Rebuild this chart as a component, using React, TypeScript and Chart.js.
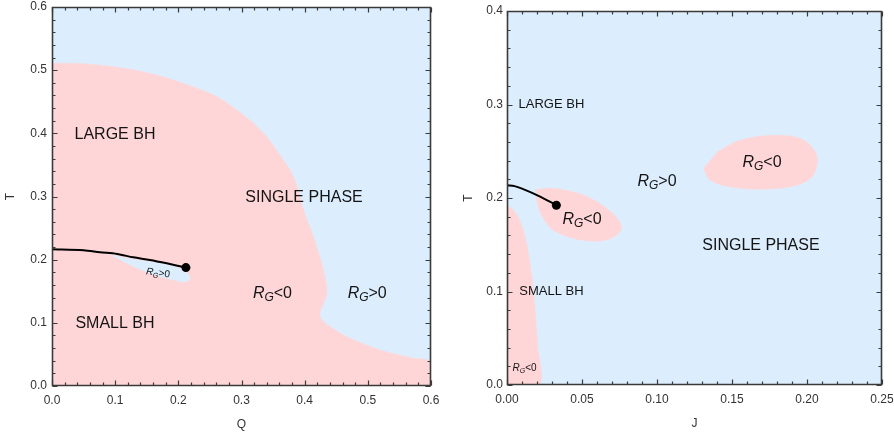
import React, { useEffect, useRef } from 'react';
import { Chart, registerables } from 'chart.js';
Chart.register(...registerables);

const FONT = '"Liberation Sans", Arial, sans-serif';
const PINK = '#FFD6D7';
const BLUE = '#DCEDFD';
const FRAME = '#3A3A3A';
const TEXT = '#141414';
const TICK_TEXT = '#333333';

// ---------- Left panel (T vs Q) ----------
const Q_TICKS = [0, 0.1, 0.2, 0.3, 0.4, 0.5, 0.6];
const TQ_TICKS = [0, 0.1, 0.2, 0.3, 0.4, 0.5, 0.6];

const UNSTABLE_Q = [0, 0.05, 0.1, 0.155, 0.208, 0.261, 0.313, 0.34, 0.366, 0.378, 0.39, 0.398, 0.414, 0.427, 0.434, 0.435, 0.43, 0.424, 0.427, 0.44, 0.467, 0.519, 0.572, 0.6, 0.6, 0];
const UNSTABLE_Q_T = [0.511, 0.51, 0.505, 0.495, 0.479, 0.458, 0.421, 0.394, 0.358, 0.34, 0.31, 0.279, 0.236, 0.194, 0.163, 0.147, 0.131, 0.115, 0.105, 0.094, 0.078, 0.057, 0.044, 0.038, 0, 0];

const POCKET_Q = [0.092, 0.1287, 0.1816, 0.208, 0.2185, 0.2132, 0.1974, 0.155, 0.1182];
const POCKET_Q_T = [0.2074, 0.2005, 0.1922, 0.1836, 0.172, 0.165, 0.1667, 0.1784, 0.1942];

const COEX_Q = [0, 0.05, 0.076, 0.103, 0.1287, 0.155, 0.1816, 0.212];
const COEX_Q_T = [0.2164, 0.2148, 0.2117, 0.209, 0.2037, 0.1995, 0.1942, 0.1875];
const CRIT_Q = [0.212];
const CRIT_Q_T = [0.1875];

// ---------- Right panel (T vs J) ----------
const J_TICKS = [0, 0.05, 0.1, 0.15, 0.2, 0.25];
const TJ_TICKS = [0, 0.1, 0.2, 0.3, 0.4];

const STRIP_J = [0, 0.0044, 0.0089, 0.0133, 0.0167, 0.0189, 0.0204, 0.0218, 0];
const STRIP_J_T = [0.192, 0.187, 0.1745, 0.1496, 0.114, 0.0783, 0.0427, 0, 0];

const LOBE_J = [0.019, 0.03, 0.043, 0.054, 0.0667, 0.0744, 0.0762, 0.072, 0.0622, 0.0444, 0.031, 0.0255, 0.022, 0.0195];
const LOBE_J_T = [0.209, 0.2105, 0.207, 0.201, 0.1888, 0.1763, 0.1674, 0.159, 0.154, 0.1567, 0.1656, 0.175, 0.1855, 0.199];

const ISLAND_J = [0.131, 0.1355, 0.1489, 0.1667, 0.1889, 0.2022, 0.2067, 0.2055, 0.1955, 0.1778, 0.1555, 0.14];
const ISLAND_J_T = [0.2316, 0.2191, 0.2119, 0.2094, 0.2119, 0.2209, 0.235, 0.2493, 0.2636, 0.2671, 0.2618, 0.2493];

const COEX_J = [0, 0.005, 0.01, 0.021, 0.0329];
const COEX_J_T = [0.2137, 0.2127, 0.21, 0.2023, 0.1923];
const CRIT_J = [0.0329];
const CRIT_J_T = [0.1923];

// ---------- Labels ----------
const LEFT_TEXT = [
  { text: 'LARGE BH', x: 0.0997, y: 0.398, size: 16 },
  { text: 'SMALL BH', x: 0.0997, y: 0.0993, size: 16 },
  { text: 'SINGLE PHASE', x: 0.399, y: 0.2987, size: 16 },
  { rg: '<0', x: 0.349, y: 0.148, size: 16 },
  { rg: '>0', x: 0.499, y: 0.148, size: 16 },
  { rg: '>0', x: 0.168, y: 0.18, size: 10, rot: 8 },
];
const RIGHT_TEXT = [
  { text: 'LARGE BH', x: 0.0296, y: 0.3, size: 13 },
  { text: 'SMALL BH', x: 0.0296, y: 0.0997, size: 13 },
  { text: 'SINGLE PHASE', x: 0.1693, y: 0.1489, size: 16 },
  { rg: '>0', x: 0.1, y: 0.219, size: 16 },
  { rg: '<0', x: 0.05, y: 0.1788, size: 16 },
  { rg: '<0', x: 0.17, y: 0.2394, size: 16 },
  { rg: '<0', x: 0.0117, y: 0.0189, size: 10 },
];

const zip = (xs: number[], ys: number[]) => xs.map((x, i) => ({ x, y: ys[i] }));

const region = (xs: number[], ys: number[], color: string, tension = 0) => ({
  type: 'line',
  data: zip(xs, ys),
  showLine: true,
  fill: 'shape',
  backgroundColor: color,
  borderColor: color,
  borderWidth: 0.5,
  pointRadius: 0,
  tension,
});
const curve = (xs: number[], ys: number[]) => ({
  type: 'line',
  data: zip(xs, ys),
  showLine: true,
  fill: false,
  borderColor: '#000',
  borderWidth: 2,
  pointRadius: 0,
  tension: 0.3,
});
const dot = (xs: number[], ys: number[]) => ({
  type: 'scatter',
  data: zip(xs, ys),
  showLine: false,
  pointRadius: 4.5,
  pointBackgroundColor: '#000',
  pointBorderWidth: 0,
  pointBorderColor: '#000',
});

function drawRG(ctx: CanvasRenderingContext2D, rel: string, x: number, y: number, size: number, rotDeg: number) {
  const f1 = `italic ${size}px ${FONT}`;
  const f2 = `italic ${Math.round(size * 0.72)}px ${FONT}`;
  const f3 = `${size}px ${FONT}`;
  ctx.font = f1; const w1 = ctx.measureText('R').width;
  ctx.font = f2; const w2 = ctx.measureText('G').width;
  ctx.font = f3; const w3 = ctx.measureText(rel).width;
  const total = w1 + w2 + w3;
  ctx.save();
  ctx.translate(x, y);
  ctx.rotate((rotDeg * Math.PI) / 180);
  ctx.textAlign = 'left';
  ctx.textBaseline = 'alphabetic';
  ctx.fillStyle = TEXT;
  const base = size * 0.36;
  let cx = -total / 2;
  ctx.font = f1; ctx.fillText('R', cx, base); cx += w1;
  ctx.font = f2; ctx.fillText('G', cx, base + size * 0.2); cx += w2;
  ctx.font = f3; ctx.fillText(rel, cx, base);
  ctx.restore();
}

function makePlugin(p: any) {
  return {
    id: 'panel',
    beforeDatasetsDraw(chart: any) {
      const { ctx, chartArea: a } = chart;
      ctx.save();
      ctx.fillStyle = BLUE;
      ctx.fillRect(a.left, a.top, a.right - a.left, a.bottom - a.top);
      ctx.restore();
    },
    afterDatasetsDraw(chart: any) {
      const ctx: CanvasRenderingContext2D = chart.ctx;
      const xs = chart.scales.x;
      const ys = chart.scales.y;
      for (const l of p.labels) {
        const px = xs.getPixelForValue(l.x);
        const py = ys.getPixelForValue(l.y);
        if (l.rg) {
          drawRG(ctx, l.rg, px, py, l.size, l.rot || 0);
        } else {
          ctx.save();
          ctx.font = `${l.size}px ${FONT}`;
          ctx.fillStyle = TEXT;
          ctx.textAlign = 'center';
          ctx.textBaseline = 'middle';
          ctx.fillText(l.text, px, py);
          ctx.restore();
        }
      }
    },
    afterDraw(chart: any) {
      const ctx: CanvasRenderingContext2D = chart.ctx;
      const a = chart.chartArea;
      const xs = chart.scales.x;
      const ys = chart.scales.y;
      const left = Math.round(a.left) + 0.5;
      const right = Math.round(a.right) - 0.5;
      const top = Math.round(a.top) + 0.5;
      const bottom = Math.round(a.bottom) - 0.5;
      ctx.save();
      ctx.globalCompositeOperation = 'source-over';
      ctx.globalAlpha = 1;
      ctx.setLineDash([]);
      ctx.strokeStyle = FRAME;
      ctx.lineWidth = 1.6;
      ctx.lineCap = 'butt';
      ctx.beginPath();
      ctx.rect(left, top, right - left, bottom - top);
      ctx.stroke();
      ctx.lineWidth = 1.2;
      ctx.beginPath();
      const ticks = (scale: any, vals: number[], horizontal: boolean) => {
        const minor = (vals[1] - vals[0]) / 5;
        const n = Math.round((vals[vals.length - 1] - vals[0]) / minor);
        for (let i = 0; i <= n; i++) {
          const v = vals[0] + i * minor;
          const len = i % 5 === 0 ? 5 : 3;
          const q = Math.round(scale.getPixelForValue(v)) + 0.5;
          if (horizontal) {
            ctx.moveTo(q, bottom); ctx.lineTo(q, bottom - len);
            ctx.moveTo(q, top); ctx.lineTo(q, top + len);
          } else {
            ctx.moveTo(left, q); ctx.lineTo(left + len, q);
            ctx.moveTo(right, q); ctx.lineTo(right - len, q);
          }
        }
      };
      ticks(xs, p.xTicks, true);
      ticks(ys, p.yTicks, false);
      ctx.stroke();
      ctx.restore();
    },
  };
}

function makeConfig(p: any) {
  return {
    type: 'line',
    data: { datasets: p.datasets },
    plugins: [makePlugin(p)],
    options: {
      responsive: false,
      animation: false,
      devicePixelRatio: 1,
      events: [],
      layout: { autoPadding: false, padding: p.padding },
      plugins: {
        legend: { display: false },
        tooltip: { enabled: false },
      },
      scales: {
        x: {
          type: 'linear',
          min: p.xTicks[0],
          max: p.xTicks[p.xTicks.length - 1],
          afterBuildTicks: (s: any) => { s.ticks = p.xTicks.map((v: number) => ({ value: v })); },
          afterFit: (s: any) => { s.height = p.xHeight; s.paddingLeft = 0; s.paddingRight = 0; s.paddingTop = 0; s.paddingBottom = 0; },
          grid: { display: false, drawTicks: false },
          border: { display: false },
          ticks: {
            autoSkip: false, maxRotation: 0, padding: 7,
            color: TICK_TEXT, font: { family: FONT, size: 12 },
            callback: (v: number) => v.toFixed(p.xDigits),
          },
          title: { display: true, text: p.xTitle, color: TICK_TEXT, font: { family: FONT, size: 12 }, padding: { top: 0, bottom: p.xTitlePad } },
        },
        y: {
          type: 'linear',
          min: p.yTicks[0],
          max: p.yTicks[p.yTicks.length - 1],
          afterBuildTicks: (s: any) => { s.ticks = p.yTicks.map((v: number) => ({ value: v })); },
          afterFit: (s: any) => { s.width = p.yWidth; s.paddingLeft = 0; s.paddingRight = 0; s.paddingTop = 0; s.paddingBottom = 0; },
          grid: { display: false, drawTicks: false },
          border: { display: false },
          ticks: {
            autoSkip: false, padding: p.yTickPad,
            color: TICK_TEXT, font: { family: FONT, size: 12 },
            callback: (v: number) => v.toFixed(1),
          },
          title: { display: true, text: 'T', color: TICK_TEXT, font: { family: FONT, size: 12 }, padding: { top: p.yTitlePad, bottom: 0 } },
        },
      },
    },
  };
}

function Panel({ params }: { params: any }) {
  const ref = useRef<HTMLCanvasElement>(null);
  useEffect(() => {
    if (!ref.current) return;
    const chart = new Chart(ref.current, makeConfig(params) as any);
    return () => chart.destroy();
  }, [params]);
  return <canvas ref={ref} width={447} height={432} style={{ display: 'block', width: 447, height: 432 }} />;
}

const LEFT = {
  datasets: [
    dot(CRIT_Q, CRIT_Q_T),
    curve(COEX_Q, COEX_Q_T),
    region(POCKET_Q, POCKET_Q_T, BLUE, 0.3),
    region(UNSTABLE_Q, UNSTABLE_Q_T, PINK, 0.3),
  ],
  labels: LEFT_TEXT,
  padding: { top: 7, right: 16, left: 0, bottom: 0 },
  xTicks: Q_TICKS, yTicks: TQ_TICKS, xDigits: 1,
  xHeight: 46, yWidth: 52, yTickPad: 5, xTitle: 'Q', xTitlePad: 0, yTitlePad: 3,
};

const RIGHT = {
  datasets: [
    dot(CRIT_J, CRIT_J_T),
    curve(COEX_J, COEX_J_T),
    region(ISLAND_J, ISLAND_J_T, PINK, 0.35),
    region(LOBE_J, LOBE_J_T, PINK, 0.35),
    region(STRIP_J, STRIP_J_T, PINK, 0.3),
  ],
  labels: RIGHT_TEXT,
  padding: { top: 11, right: 12, left: 0, bottom: 0 },
  xTicks: J_TICKS, yTicks: TJ_TICKS, xDigits: 2,
  xHeight: 47, yWidth: 60, yTickPad: 4, xTitle: 'J', xTitlePad: 1, yTitlePad: 14,
};

export default function App() {
  return (
    <div style={{ position: 'absolute', left: 0, top: 0, width: 894, height: 432, display: 'flex', background: '#fff' }}>
      <Panel params={LEFT} />
      <Panel params={RIGHT} />
    </div>
  );
}
